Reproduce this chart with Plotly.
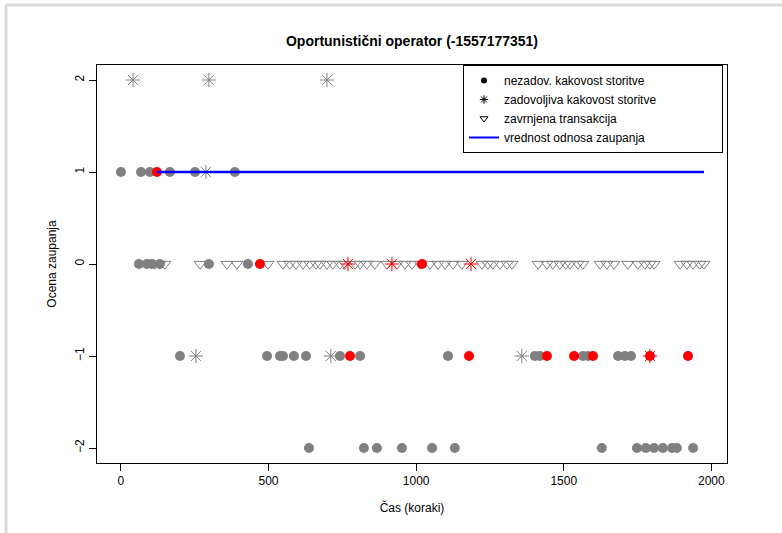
import plotly.graph_objects as go

# ---- data (time step, trust score) ----
# gray filled circles: unsatisfactory quality of service
circ_x = [0, 68, 98, 166, 251, 386,
          61, 88, 105, 132, 298, 430,
          200, 495, 539, 549, 586, 627, 742, 810, 1108, 1402, 1419, 1565, 1582, 1684, 1707, 1728,
          637, 823, 867, 952, 1054, 1131, 1629, 1748, 1778, 1806, 1836, 1867, 1883, 1938]
circ_y = [1] * 6 + [0] * 6 + [-1] * 16 + [-2] * 14

# gray asterisks: satisfactory quality of service
star_x = [41, 298, 698, 288, 254, 711, 1358]
star_y = [2, 2, 2, 1, -1, -1, -1]

# gray open triangles: completed transactions
tri_x = [115, 132, 149, 268, 359, 393, 498, 549, 572, 593, 617, 640, 661, 674, 698, 718,
         742, 759, 793, 810, 833, 860, 901, 935, 962, 986, 1013, 1047, 1074, 1098, 1125,
         1155, 1223, 1243, 1260, 1284, 1308, 1325, 1413, 1443, 1463, 1487, 1507, 1521,
         1548, 1565, 1623, 1646, 1670, 1717, 1751, 1775, 1792, 1806, 1894, 1917, 1938,
         1961, 1975]
tri_y = [0] * len(tri_x)

# red highlighted events
red_circ_x = [122, 471, 1020, 776, 1179, 1443, 1535, 1599, 1792, 1921]
red_circ_y = [1, 0, 0, -1, -1, -1, -1, -1, -1, -1]
red_star_x = [769, 918, 1186, 1792]
red_star_y = [0, 0, 0, -1]

# trust relationship value
trust_x = [122, 1975]
trust_y = [1, 1]

x_ticks = [0, 500, 1000, 1500, 2000]
y_ticks = [-2, -1, 0, 1, 2]

legend_labels = ["nezadov. kakovost storitve", "zadovoljiva kakovost storitve",
                 "zavrnjena transakcija", "vrednost odnosa zaupanja"]

GRAY = "#808080"
FONT = "Liberation Sans, Arial, Helvetica, sans-serif"
PAD = "\u00a0" * 18  # widen legend box like the original

fig = go.Figure()

fig.add_trace(go.Scatter(x=tri_x, y=tri_y, mode="markers", showlegend=False,
                         marker=dict(symbol="triangle-down-open", size=10.5, color=GRAY,
                                     line=dict(width=1, color=GRAY))))
fig.add_trace(go.Scatter(x=circ_x, y=circ_y, mode="markers", showlegend=False,
                         marker=dict(symbol="circle", size=10, color=GRAY, line=dict(width=0))))
fig.add_trace(go.Scatter(x=star_x, y=star_y, mode="markers", showlegend=False,
                         marker=dict(symbol="asterisk-open", size=12, color=GRAY,
                                     line=dict(width=1, color=GRAY))))
fig.add_trace(go.Scatter(x=red_circ_x, y=red_circ_y, mode="markers", showlegend=False,
                         marker=dict(symbol="circle", size=10, color="red", line=dict(width=0))))
fig.add_trace(go.Scatter(x=red_star_x, y=red_star_y, mode="markers", showlegend=False,
                         marker=dict(symbol="asterisk-open", size=12, color="red",
                                     line=dict(width=1, color="red"))))
fig.add_trace(go.Scatter(x=trust_x, y=trust_y, mode="lines", showlegend=False,
                         line=dict(color="#0000FF", width=2.5)))

# legend-only entries (black symbols as in the original)
fig.add_trace(go.Scatter(x=[None], y=[None], mode="markers", name=legend_labels[0],
                         marker=dict(symbol="circle", size=6, color="black")))
fig.add_trace(go.Scatter(x=[None], y=[None], mode="markers", name=legend_labels[1] + PAD,
                         marker=dict(symbol="asterisk-open", size=7, color="black",
                                     line=dict(width=1, color="black"))))
fig.add_trace(go.Scatter(x=[None], y=[None], mode="markers", name=legend_labels[2],
                         marker=dict(symbol="triangle-down-open", size=7, color="black",
                                     line=dict(width=1, color="black"))))
fig.add_trace(go.Scatter(x=[None], y=[None], mode="lines", name=legend_labels[3],
                         line=dict(color="#0000FF", width=2)))

L, R, T, B = 97, 55, 65, 70
W, H = 782, 533
pw, ph = W - L - R, H - T - B

fig.update_layout(
    width=W, height=H,
    margin=dict(l=L, r=R, t=T, b=B),
    paper_bgcolor="white", plot_bgcolor="white",
    font=dict(family=FONT, size=12, color="black"),
    title=dict(text="<b>Oportunistični operator (-1557177351)</b>",
               x=(L + pw / 2) / W, xanchor="center",
               y=1 - 41 / H, yanchor="middle",
               font=dict(size=14, family=FONT, color="black")),
    xaxis=dict(range=[-81, 2053], tickvals=x_ticks, showgrid=False, zeroline=False,
               showline=True, linecolor="black", linewidth=1, mirror=True,
               ticks="outside", ticklen=7, tickcolor="black",
               title=dict(text="Čas (koraki)", standoff=16, font=dict(size=12))),
    yaxis=dict(range=[-2.163, 2.163], tickvals=y_ticks, showgrid=False, zeroline=False,
               showline=True, linecolor="black", linewidth=1, mirror=True,
               ticks="outside", ticklen=7, tickcolor="black", tickangle=-90,
               title=dict(text="Ocena zaupanja", standoff=14, font=dict(size=12))),
    legend=dict(x=(463 - L) / pw, y=1, xanchor="left", yanchor="top",
                bgcolor="white", bordercolor="black", borderwidth=1,
                font=dict(size=12, family=FONT), tracegroupgap=0),
    shapes=[
        dict(type="line", xref="paper", yref="paper",
             x0=(6 - L) / pw, x1=(6 - L) / pw, y0=(T + ph - H) / ph, y1=(T + ph - 5) / ph,
             line=dict(color="#d9d9d9", width=3)),
        dict(type="line", xref="paper", yref="paper",
             x0=(6 - L) / pw, x1=(W - L) / pw, y0=(T + ph - 5) / ph, y1=(T + ph - 5) / ph,
             line=dict(color="#d9d9d9", width=3)),
    ],
)

fig.write_html("out.html")
